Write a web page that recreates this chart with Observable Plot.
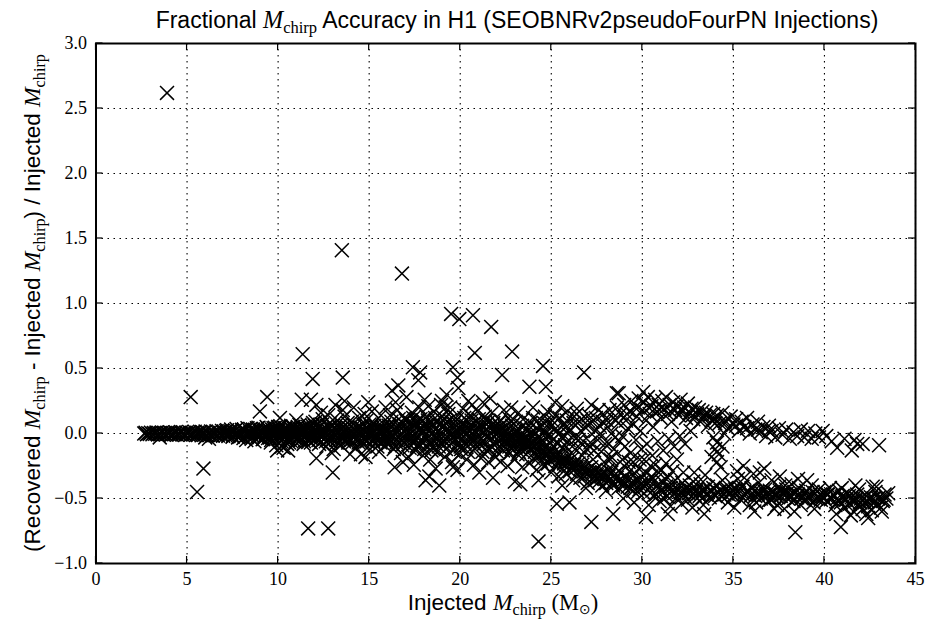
<!DOCTYPE html>
<html>
<head>
<meta charset="utf-8">
<script src="https://cdn.jsdelivr.net/npm/d3@7"></script>
<script src="https://cdn.jsdelivr.net/npm/@observablehq/plot@0.6"></script>
<style>
  html, body { margin: 0; padding: 0; background: #fff; }
  #chart { width: 928px; height: 621px; }
</style>
</head>
<body>
<div id="chart"></div>
<script>
// ---- axis ticks ----
const xTicks = [0, 5, 10, 15, 20, 25, 30, 35, 40, 45];
const xTickLabels = ["0", "5", "10", "15", "20", "25", "30", "35", "40", "45"];
const yTicks = [-1.0, -0.5, 0.0, 0.5, 1.0, 1.5, 2.0, 2.5, 3.0];
const yTickLabels = ["\u22121.0", "\u22120.5", "0.0", "0.5", "1.0", "1.5", "2.0", "2.5", "3.0"];

// ---- data: [injected Mchirp, fractional error] ----
const band2to7 = [[2.65,0],[2.72,0.005],[2.8,-0.005],[2.87,0.002],[2.95,-0.003],[3.02,0.006],[3.1,-0.006],[3.17,0.003],[3.25,-0.002],[3.32,0.007],[3.4,-0.007],[3.47,0.002],[3.5,-0.03],[3.55,-0.004],[3.62,0.008],[3.7,-0.006],[3.77,0.003],[3.85,-0.008],[3.92,0.005],[4.0,-0.003],[4.07,0.009],[4.15,-0.009],[4.22,0.004],[4.3,-0.005],[4.37,0.01],[4.45,-0.01],[4.52,0.003],[4.6,-0.006],[4.67,0.011],[4.75,-0.008],[4.82,0.004],[4.9,-0.011],[4.97,0.008],[5.05,-0.004],[5.12,0.012],[5.2,-0.01],[5.27,0.005],[5.35,-0.007],[5.42,0.013],[5.5,-0.012],[5.57,0.006],[5.65,-0.005],[5.72,0.014],[5.8,-0.013],[5.87,0.007],[5.95,-0.009],[6.0,-0.03],[6.02,0.015],[6.1,-0.014],[6.17,0.004],[6.2,-0.04],[6.25,-0.011],[6.32,0.016],[6.4,-0.015],[6.47,0.008],[6.55,-0.006],[6.62,0.018],[6.7,-0.016],[6.77,0.01],[6.85,-0.012],[6.92,0.02],[6.98,-0.018]];

const band7to12 = [[7.05,0.012],[7.12,-0.015],[7.2,0.025],[7.27,-0.02],[7.35,0.005],[7.42,0.03],[7.5,-0.025],[7.57,0.015],[7.65,-0.01],[7.72,0.035],[7.8,-0.03],[7.87,0.01],[7.95,-0.018],[8.02,0.028],[8.1,-0.035],[8.17,0.02],[8.25,-0.05],[8.32,0.04],[8.4,-0.012],[8.47,0.008],[8.5,0.0],[8.55,-0.04],[8.62,0.03],[8.7,-0.06],[8.77,0.015],[8.85,-0.025],[8.9,0.005],[8.92,0.045],[9.0,-0.02],[9.07,0.02],[9.15,-0.045],[9.22,0.035],[9.3,-0.01],[9.32,0.025],[9.37,0.05],[9.45,-0.035],[9.52,0.01],[9.55,0.0],[9.6,-0.07],[9.67,0.03],[9.75,-0.02],[9.82,0.045],[9.85,-0.005],[9.9,-0.09],[9.95,-0.13],[9.97,0.015],[10.05,-0.04],[10.1,0.12],[10.12,0.055],[10.15,0.005],[10.2,-0.1],[10.27,0.02],[10.3,-0.11],[10.35,-0.03],[10.42,0.04],[10.45,-0.01],[10.5,-0.08],[10.55,-0.13],[10.57,0.01],[10.65,-0.05],[10.72,0.06],[10.75,0.0],[10.8,-0.02],[10.87,0.035],[10.95,-0.065],[11.0,0.1],[11.02,0.02],[11.05,-0.005],[11.1,-0.035],[11.17,0.065],[11.25,-0.05],[11.32,0.01],[11.35,0.0],[11.4,-0.08],[11.47,0.045],[11.55,-0.02],[11.62,0.07],[11.65,-0.01],[11.7,-0.06],[11.77,0.025],[11.85,-0.04],[11.92,0.08],[11.95,0.005],[11.97,-0.01]];

const core9to16 = [[9.05,0.01],[9.15,0.03],[9.25,-0.02],[9.35,0.0],[9.45,0.02],[9.55,-0.03],[9.65,0.01],[9.75,0.04],[9.85,0.02],[9.95,-0.02],[10.05,0.03],[10.15,-0.03],[10.25,0.0],[10.35,0.04],[10.45,0.01],[10.55,-0.04],[10.65,0.02],[10.75,-0.01],[10.85,0.05],[10.95,0.0],[11.05,0.03],[11.15,-0.03],[11.25,0.01],[11.35,0.04],[11.45,-0.02],[11.55,0.02],[11.65,0.05],[11.75,-0.03],[11.85,0.01],[11.95,0.04],[12.15,0.0],[12.35,-0.02],[12.55,0.03],[12.75,-0.05],[12.95,0.02],[13.15,-0.01],[13.35,0.05],[13.55,-0.04],[13.75,0.02],[13.95,0.0],[14.15,-0.03],[14.35,0.04],[14.55,0.01],[14.75,-0.05],[14.95,0.03],[15.15,0.0],[15.35,-0.04],[15.55,0.02],[15.75,0.05],[15.95,-0.02]];

const core7to16 = [[7.03,0.0],[7.15,0.02],[7.28,-0.01],[7.4,0.015],[7.52,-0.02],[7.64,0.025],[7.76,0.0],[7.88,-0.025],[8.0,0.01],[8.12,0.03],[8.24,-0.015],[8.36,0.0],[8.48,0.035],[8.6,-0.02],[8.72,0.01],[8.84,0.04],[8.96,-0.03],[9.08,0.0],[9.2,-0.04],[9.42,0.04],[9.62,-0.05],[9.8,0.0],[10.0,0.05],[10.18,-0.06],[10.38,0.03],[10.6,-0.07],[10.8,0.05],[11.0,-0.04],[11.2,0.03],[11.42,-0.06],[11.6,0.0],[11.8,-0.07],[12.02,0.06],[12.22,-0.05],[12.42,0.07],[12.62,-0.06],[12.82,0.01],[13.02,0.06],[13.22,-0.07],[13.42,0.03],[13.62,-0.06],[13.82,0.08],[14.02,-0.05],[14.22,0.06],[14.42,-0.07],[14.62,0.04],[14.82,-0.02],[15.02,0.07],[15.22,-0.06],[15.42,0.05],[15.62,-0.07],[15.82,0.07]];

const core10to24 = [[10.08,-0.02],[10.28,0.03],[10.48,-0.05],[10.68,0.04],[10.88,-0.03],[11.08,0.05],[11.28,-0.04],[11.48,0.02],[11.68,-0.05],[11.88,0.06],[12.08,-0.04],[12.28,0.05],[12.48,-0.02],[12.68,0.06],[12.88,-0.06],[13.08,0.04],[13.28,-0.04],[13.48,0.07],[13.68,-0.02],[13.88,0.04],[14.08,-0.07],[14.28,0.02],[14.48,-0.04],[14.68,0.07],[14.88,-0.06],[15.08,0.02],[15.28,0.06],[15.48,-0.06],[15.68,0.03],[15.88,-0.04],[16.08,0.06],[16.28,-0.01],[16.48,-0.05],[16.68,0.05],[16.88,-0.07],[17.08,0.03],[17.28,0.08],[17.48,-0.04],[17.68,0.06],[17.88,-0.06],[18.08,0.04],[18.28,-0.07],[18.48,0.05],[18.68,-0.03],[18.88,0.07],[19.08,-0.05],[19.28,0.09],[19.48,-0.02],[19.68,0.04],[19.88,-0.09],[20.08,0.02],[20.28,0.07],[20.48,-0.06],[20.68,0.04],[20.88,-0.04],[21.08,0.07],[21.28,-0.06],[21.48,0.03],[21.68,0.0],[21.88,-0.09],[22.08,0.0],[22.48,-0.05],[22.88,-0.1],[23.28,-0.06],[23.68,-0.1],[24.08,-0.06]];

const band12to16 = [[12.0,0.02],[12.1,-0.03],[12.2,0.045],[12.3,-0.01],[12.4,0.03],[12.5,-0.045],[12.6,0.01],[12.7,-0.02],[12.8,0.05],[12.9,-0.035],[13.0,0.0],[13.1,0.035],[13.2,-0.05],[13.3,0.02],[13.4,-0.015],[13.5,0.04],[13.6,-0.03],[13.7,0.005],[13.8,0.05],[13.9,-0.04],[14.0,0.015],[14.1,-0.02],[14.2,0.03],[14.3,-0.05],[14.4,0.0],[14.5,0.045],[14.6,-0.025],[14.7,0.02],[14.8,-0.04],[14.9,0.035],[15.0,-0.01],[15.1,0.05],[15.2,-0.045],[15.3,0.01],[15.4,-0.02],[15.5,0.04],[15.6,-0.035],[15.7,0.0],[15.8,0.03],[15.9,-0.05],[16.0,0.02],[12.05,0.09],[12.25,-0.08],[12.45,0.11],[12.65,-0.1],[12.85,0.08],[13.05,-0.12],[13.25,0.1],[13.45,-0.09],[13.65,0.13],[13.85,-0.07],[14.05,0.09],[14.25,-0.11],[14.45,0.12],[14.65,-0.08],[14.85,0.1],[15.05,-0.12],[15.25,0.08],[15.45,-0.1],[15.65,0.14],[15.85,-0.09],[12.35,0.16],[12.95,-0.15],[13.55,0.18],[14.15,0.2],[14.55,-0.16],[15.15,0.17],[15.55,-0.14],[13.15,0.22],[14.75,0.15],[15.9,0.2],[12.75,0.14],[13.95,-0.16]];

const band16to22 = [[16.1,-0.04],[16.2,0.06],[16.3,-0.02],[16.4,0.03],[16.5,-0.07],[16.6,0.01],[16.7,0.07],[16.8,-0.05],[16.9,0.02],[17.0,-0.03],[17.1,0.05],[17.2,-0.08],[17.3,0.0],[17.4,0.04],[17.5,-0.06],[17.6,0.08],[17.7,-0.02],[17.8,0.03],[17.9,-0.07],[18.0,0.01],[18.1,0.06],[18.2,-0.04],[18.3,0.02],[18.4,-0.08],[18.5,0.07],[18.6,-0.01],[18.7,0.04],[18.8,-0.06],[18.9,0.0],[19.0,0.05],[19.1,-0.05],[19.2,0.08],[19.3,-0.03],[19.4,0.02],[19.5,-0.08],[19.6,0.05],[19.7,-0.01],[19.8,0.03],[19.9,-0.07],[20.0,0.06],[20.1,-0.04],[20.2,0.01],[20.3,-0.09],[20.4,0.04],[20.5,-0.02],[20.6,0.07],[20.7,-0.06],[20.8,0.02],[20.9,-0.1],[21.0,0.03],[21.1,-0.05],[21.2,0.06],[21.3,-0.08],[21.4,0.0],[21.5,-0.03],[21.6,0.05],[21.7,-0.1],[21.8,0.02],[21.9,-0.06],[22.0,0.04],[16.15,0.14],[16.35,-0.12],[16.55,0.18],[16.75,-0.15],[16.95,0.12],[17.15,-0.18],[17.35,0.16],[17.55,-0.13],[17.75,0.2],[17.95,-0.17],[18.15,0.13],[18.35,-0.2],[18.55,0.17],[18.75,-0.14],[18.95,0.22],[19.15,-0.18],[19.35,0.15],[19.55,-0.22],[19.75,0.12],[19.95,-0.16],[20.15,0.19],[20.35,-0.2],[20.55,0.14],[20.75,-0.24],[20.95,0.17],[21.15,-0.19],[21.35,0.13],[21.55,-0.22],[21.75,0.16],[21.95,-0.18],[16.45,0.24],[17.05,0.28],[17.45,-0.24],[18.05,0.26],[18.65,-0.27],[19.25,0.3],[19.85,-0.28],[20.45,0.25],[21.05,-0.3],[21.65,0.27],[16.85,-0.22],[18.25,0.21],[19.45,0.2],[20.65,0.22],[21.25,0.24],[17.65,0.1],[18.45,-0.11],[19.05,0.1],[20.05,-0.12],[21.45,-0.13]];

const core16to22 = [[16.05,0.02],[16.25,-0.06],[16.45,0.05],[16.65,-0.03],[16.85,0.08],[17.05,0.0],[17.25,-0.05],[17.45,0.07],[17.65,-0.09],[17.85,0.04],[18.05,-0.02],[18.25,0.06],[18.45,0.0],[18.65,0.09],[18.85,-0.03],[19.05,-0.08],[19.25,0.03],[19.45,-0.05],[19.65,0.08],[19.85,0.0],[20.05,0.05],[20.25,-0.07],[20.45,0.02],[20.65,-0.03],[20.85,0.09],[21.05,-0.08],[21.25,0.01],[21.45,0.07],[21.65,-0.05],[21.85,0.04],[16.15,0.0],[16.75,0.04],[17.35,-0.02],[17.95,0.1],[18.55,-0.05],[19.15,0.06],[19.75,-0.04],[20.35,0.1],[20.95,-0.01],[21.55,0.09]];

const core16to28 = [[16.02,-0.08],[16.22,0.09],[16.42,-0.1],[16.62,0.11],[16.82,-0.09],[17.02,0.1],[17.22,-0.11],[17.42,0.12],[17.62,-0.1],[17.82,0.11],[18.02,-0.12],[18.22,0.1],[18.42,-0.13],[18.62,0.12],[18.82,-0.1],[19.02,0.13],[19.22,-0.12],[19.42,0.1],[19.62,-0.13],[19.82,0.11],[20.02,-0.1],[20.22,0.12],[20.42,-0.14],[20.62,0.1],[20.82,-0.12],[21.02,0.11],[21.22,-0.14],[21.42,0.1],[21.62,-0.12],[21.82,0.08],[22.02,-0.14],[22.22,0.03],[22.42,-0.1],[22.62,0.0],[22.82,-0.12],[23.02,0.02],[23.22,-0.14],[23.42,-0.02],[23.62,-0.16],[23.82,0.0],[24.02,-0.19],[24.22,0.04],[24.42,-0.21],[24.62,0.02],[24.82,-0.23],[25.02,0.06],[25.22,-0.25],[25.42,0.0],[25.62,-0.27],[25.82,0.05],[26.02,-0.29],[26.22,0.08],[26.42,-0.31],[26.62,0.02],[26.82,-0.33],[27.02,0.06],[27.22,-0.35],[27.42,0.02],[27.62,-0.37],[27.82,0.09],[28.02,-0.38],[24.25,-0.12],[24.75,-0.15],[25.25,-0.18],[25.75,-0.21],[26.25,-0.24],[26.75,-0.27],[27.25,-0.3],[27.75,-0.32],[28.25,-0.35],[28.65,-0.37],[29.05,-0.39],[29.45,-0.41],[29.85,-0.43]];

const band22to28 = [[22.0,-0.01],[22.1,0.02],[22.2,-0.04],[22.3,0.0],[22.4,-0.03],[22.5,-0.06],[22.6,-0.01],[22.7,-0.05],[22.8,-0.02],[22.9,-0.08],[23.0,-0.04],[23.1,-0.07],[23.2,-0.03],[23.3,-0.09],[23.4,-0.06],[23.5,-0.1],[23.6,-0.07],[23.7,-0.11],[23.8,-0.08],[23.9,-0.12],[24.0,-0.1],[24.1,-0.14],[24.2,-0.09],[24.3,-0.13],[24.4,-0.16],[24.5,-0.12],[24.6,-0.15],[24.7,-0.11],[24.8,-0.17],[24.9,-0.14],[25.0,-0.18],[25.1,-0.15],[25.2,-0.19],[25.3,-0.16],[25.4,-0.21],[25.5,-0.17],[25.6,-0.2],[25.7,-0.23],[25.8,-0.19],[25.9,-0.22],[26.0,-0.24],[26.1,-0.2],[26.2,-0.25],[26.3,-0.22],[26.4,-0.26],[26.5,-0.23],[26.6,-0.27],[26.7,-0.24],[26.8,-0.29],[26.9,-0.25],[27.0,-0.28],[27.1,-0.3],[27.2,-0.26],[27.3,-0.31],[27.4,-0.28],[27.5,-0.32],[27.6,-0.29],[27.7,-0.33],[27.8,-0.3],[27.9,-0.34],[28.0,-0.31],[22.05,0.08],[22.25,0.1],[22.45,0.05],[22.65,0.12],[22.85,0.06],[23.05,0.09],[23.25,0.03],[23.45,0.11],[23.65,0.04],[23.85,0.08],[24.05,0.02],[24.25,0.1],[24.45,0.05],[24.65,0.13],[24.85,0.07],[25.05,0.1],[25.25,0.04],[25.45,0.12],[25.65,0.06],[25.85,0.1],[26.05,0.03],[26.25,0.13],[26.45,0.08],[26.65,0.11],[26.85,0.05],[27.05,0.14],[27.25,0.09],[27.45,0.12],[27.65,0.06],[27.85,0.15],[28.05,0.1],[22.15,-0.1],[22.35,-0.13],[22.55,-0.02],[22.75,-0.15],[22.95,0.0],[23.15,-0.16],[23.35,-0.01],[23.55,-0.03],[23.75,-0.04],[23.95,-0.02],[24.15,-0.05],[24.35,-0.03],[24.55,-0.06],[24.75,-0.02],[24.95,-0.07],[25.15,-0.04],[25.35,-0.08],[25.55,-0.03],[25.75,-0.09],[25.95,-0.05],[26.15,-0.1],[26.35,-0.04],[26.55,-0.11],[26.75,-0.06],[26.95,-0.12],[27.15,-0.07],[27.35,-0.13],[27.55,-0.05],[27.75,-0.14],[27.95,-0.08],[22.2,-0.22],[22.6,-0.25],[23.0,-0.2],[23.4,-0.26],[23.8,-0.23],[24.2,-0.28],[24.6,-0.25],[25.0,-0.3],[25.4,-0.33],[25.8,-0.31],[26.2,-0.36],[26.6,-0.34],[27.0,-0.38],[27.4,-0.36],[27.8,-0.4],[24.3,-0.36],[25.6,-0.4],[26.9,-0.42],[28.0,-0.44],[22.4,0.18],[23.2,0.16],[24.0,0.2],[24.8,0.17],[25.6,0.21],[26.4,0.19],[27.2,0.22],[25.2,0.24]];

const core22to28 = [[22.1,-0.06],[22.3,-0.08],[22.5,0.02],[22.7,-0.1],[22.9,-0.04],[23.1,0.0],[23.3,-0.12],[23.5,-0.05],[23.7,0.02],[23.9,-0.07],[24.1,-0.01],[24.3,-0.18],[24.5,-0.08],[24.7,0.0],[24.9,-0.2],[25.1,-0.1],[25.3,0.02],[25.5,-0.22],[25.7,-0.12],[25.9,0.0],[26.1,-0.15],[26.3,-0.27],[26.5,-0.05],[26.7,-0.17],[26.9,-0.3],[27.1,-0.1],[27.3,-0.2],[27.5,-0.35],[27.7,0.0],[27.9,-0.22],[22.2,0.05],[22.8,0.09],[23.4,0.06],[24.0,0.12],[24.6,0.08],[25.2,0.14],[25.8,0.16],[26.4,0.15],[27.0,0.1],[27.6,0.18]];

const upper28to34 = [[28.1,0.05],[28.2,0.18],[28.3,0.0],[28.4,0.12],[28.5,-0.03],[28.6,0.2],[28.7,0.08],[28.8,0.15],[28.9,-0.02],[29.0,0.22],[29.1,0.1],[29.2,0.04],[29.3,0.17],[29.4,0.25],[29.5,0.07],[29.6,0.2],[29.7,0.13],[29.8,0.27],[29.9,0.02],[30.0,0.18],[30.1,0.24],[30.2,0.1],[30.3,0.28],[30.4,0.15],[30.5,0.21],[30.6,0.05],[30.7,0.26],[30.8,0.17],[30.9,0.22],[31.0,0.12],[31.1,0.25],[31.2,0.19],[31.3,0.28],[31.4,0.15],[31.5,0.22],[31.6,0.09],[31.7,0.24],[31.8,0.18],[31.9,0.21],[32.0,0.14],[32.1,0.26],[32.2,0.17],[32.3,0.2],[32.4,0.12],[32.5,0.23],[32.6,0.16],[32.7,0.19],[32.8,0.11],[32.9,0.2],[33.0,0.15],[33.1,0.18],[33.2,0.09],[33.3,0.17],[33.4,0.13],[33.5,0.16],[33.6,0.06],[33.7,0.14],[33.8,0.1],[33.9,0.15],[34.0,0.08],[28.15,-0.08],[28.45,-0.12],[28.75,-0.06],[29.05,-0.1],[29.35,-0.15],[29.65,-0.05],[29.95,-0.12],[30.25,-0.08],[30.55,-0.17],[30.85,-0.06],[31.15,-0.13],[31.45,-0.04],[31.75,-0.1],[32.05,-0.02],[32.35,-0.08],[32.65,0.02],[28.3,-0.18],[28.9,-0.2],[29.5,-0.22],[30.1,-0.2],[30.7,-0.24],[31.3,-0.23],[31.9,-0.2],[33.9,-0.03],[34.1,-0.07],[34.0,-0.12],[34.2,-0.16],[34.1,-0.22],[34.3,-0.26],[34.4,-0.1],[33.8,-0.18],[34.5,0.0],[28.55,0.1],[29.15,0.15],[29.75,0.2],[30.35,0.2],[30.95,0.18],[31.55,0.17],[32.15,0.19],[32.75,0.14],[33.35,0.12],[33.95,0.11]];

const lower28to34 = [[28.1,-0.28],[28.2,-0.36],[28.3,-0.3],[28.4,-0.4],[28.5,-0.26],[28.6,-0.34],[28.7,-0.42],[28.8,-0.3],[28.9,-0.37],[29.0,-0.25],[29.1,-0.33],[29.2,-0.41],[29.3,-0.29],[29.4,-0.38],[29.5,-0.44],[29.6,-0.31],[29.7,-0.36],[29.8,-0.27],[29.9,-0.4],[30.0,-0.34],[30.1,-0.46],[30.2,-0.3],[30.3,-0.38],[30.4,-0.42],[30.5,-0.33],[30.6,-0.48],[30.7,-0.36],[30.8,-0.4],[30.9,-0.3],[31.0,-0.44],[31.1,-0.37],[31.2,-0.5],[31.3,-0.41],[31.4,-0.34],[31.5,-0.46],[31.6,-0.39],[31.7,-0.43],[31.8,-0.36],[31.9,-0.49],[32.0,-0.41],[32.1,-0.45],[32.2,-0.38],[32.3,-0.47],[32.4,-0.42],[32.5,-0.51],[32.6,-0.4],[32.7,-0.44],[32.8,-0.37],[32.9,-0.48],[33.0,-0.43],[33.1,-0.46],[33.2,-0.39],[33.3,-0.5],[33.4,-0.44],[33.5,-0.47],[33.6,-0.41],[33.7,-0.49],[33.8,-0.45],[33.9,-0.42],[34.0,-0.48],[28.25,-0.2],[28.95,-0.5],[29.55,-0.53],[30.35,-0.55],[30.95,-0.52],[31.55,-0.56],[32.15,-0.54],[32.75,-0.57],[33.35,-0.55],[29.25,-0.22],[29.85,-0.2],[30.45,-0.25],[31.05,-0.28],[31.65,-0.29],[32.25,-0.3],[32.85,-0.3],[33.45,-0.32]];

const upper34to40 = [[34.1,0.14],[34.25,0.08],[34.4,0.16],[34.55,0.1],[34.7,0.04],[34.85,0.13],[35.0,0.07],[35.15,0.11],[35.3,0.02],[35.45,0.09],[35.6,0.05],[35.75,0.12],[35.9,0.0],[36.05,0.07],[36.2,0.03],[36.35,0.09],[36.5,0.01],[36.65,0.05],[36.8,-0.02],[36.95,0.06],[37.1,0.02],[37.3,-0.03],[37.5,0.04],[37.7,-0.01],[37.9,0.03],[38.1,-0.04],[38.3,0.01],[38.5,-0.02],[38.7,0.03],[38.9,-0.03],[39.1,0.02],[39.3,-0.04],[39.5,0.0],[39.7,-0.03],[39.9,0.02],[34.55,0.08],[35.15,0.06],[35.75,0.04],[36.35,0.03],[36.95,0.02]];

const lower34to40 = [[34.1,-0.4],[34.2,-0.5],[34.3,-0.44],[34.4,-0.36],[34.5,-0.47],[34.6,-0.42],[34.7,-0.53],[34.8,-0.45],[34.9,-0.39],[35.0,-0.48],[35.1,-0.43],[35.2,-0.29],[35.3,-0.46],[35.4,-0.51],[35.5,-0.41],[35.6,-0.34],[35.7,-0.47],[35.8,-0.44],[35.9,-0.55],[36.0,-0.42],[36.1,-0.31],[36.2,-0.48],[36.3,-0.45],[36.4,-0.38],[36.5,-0.5],[36.6,-0.43],[36.7,-0.27],[36.8,-0.47],[36.9,-0.52],[37.0,-0.44],[37.1,-0.36],[37.2,-0.49],[37.3,-0.46],[37.4,-0.55],[37.5,-0.41],[37.6,-0.48],[37.7,-0.45],[37.8,-0.58],[37.9,-0.43],[38.0,-0.5],[38.1,-0.47],[38.2,-0.39],[38.3,-0.52],[38.4,-0.46],[38.5,-0.49],[38.6,-0.42],[38.7,-0.55],[38.8,-0.48],[38.9,-0.51],[39.0,-0.44],[39.1,-0.5],[39.2,-0.47],[39.3,-0.4],[39.4,-0.53],[39.5,-0.46],[39.6,-0.49],[39.7,-0.43],[39.8,-0.51],[39.9,-0.48],[40.0,-0.45],[35.05,-0.57],[36.15,-0.6],[37.25,-0.58],[38.35,-0.6],[39.45,-0.58],[35.55,-0.25],[36.45,-0.3],[37.55,-0.33],[38.55,-0.35],[39.05,-0.36],[35.25,-0.35],[36.25,-0.53],[37.05,-0.51],[37.85,-0.4]];

const coreLower28to43 = [[28.15,-0.33],[28.35,-0.38],[28.55,-0.31],[28.75,-0.36],[28.95,-0.4],[29.15,-0.35],[29.35,-0.42],[29.55,-0.37],[29.75,-0.45],[29.95,-0.38],[30.15,-0.41],[30.35,-0.36],[30.55,-0.44],[30.75,-0.47],[30.95,-0.41],[31.15,-0.45],[31.35,-0.48],[31.55,-0.42],[31.75,-0.46],[31.95,-0.44],[32.15,-0.49],[32.35,-0.44],[32.55,-0.46],[32.75,-0.42],[32.95,-0.45],[33.15,-0.48],[33.35,-0.43],[33.55,-0.46],[33.75,-0.44],[33.95,-0.47],[34.15,-0.45],[34.35,-0.48],[34.55,-0.43],[34.75,-0.47],[34.95,-0.44],[35.15,-0.46],[35.35,-0.42],[35.55,-0.47],[35.75,-0.45],[35.95,-0.48],[36.15,-0.44],[36.35,-0.47],[36.55,-0.46],[36.75,-0.43],[36.95,-0.47],[37.15,-0.45],[37.35,-0.48],[37.55,-0.44],[37.75,-0.47],[37.95,-0.46],[38.15,-0.49],[38.35,-0.45],[38.55,-0.47],[38.75,-0.5],[38.95,-0.46],[39.15,-0.48],[39.35,-0.45],[39.55,-0.5],[39.75,-0.47],[39.95,-0.49],[40.15,-0.47],[40.35,-0.5],[40.55,-0.48],[40.75,-0.52],[40.95,-0.49],[41.15,-0.51],[41.35,-0.48],[41.55,-0.52],[41.75,-0.5],[41.95,-0.53],[42.15,-0.5],[42.35,-0.52],[42.55,-0.49],[42.75,-0.53],[42.95,-0.5],[43.25,-0.51]];

const tail40to44 = [[40.1,-0.52],[40.2,-0.47],[40.3,-0.42],[40.4,-0.5],[40.5,-0.47],[40.6,-0.55],[40.7,-0.5],[40.8,-0.44],[40.9,-0.53],[41.0,-0.48],[41.1,-0.57],[41.2,-0.51],[41.3,-0.46],[41.4,-0.54],[41.5,-0.49],[41.6,-0.6],[41.7,-0.52],[41.8,-0.47],[41.9,-0.55],[42.0,-0.5],[42.1,-0.58],[42.2,-0.53],[42.3,-0.48],[42.4,-0.56],[42.5,-0.51],[42.6,-0.59],[42.7,-0.5],[42.8,-0.45],[42.9,-0.54],[43.0,-0.49],[43.1,-0.57],[43.2,-0.52],[43.3,-0.47],[43.4,-0.5],[43.5,-0.46],[40.95,-0.42],[41.9,-0.43],[42.85,-0.41],[40.65,-0.62],[41.45,-0.63],[42.3,-0.62],[43.15,-0.6],[41.7,-0.4],[42.65,-0.41],[40.1,-0.02],[40.4,-0.06],[40.7,-0.11],[41.1,-0.04],[41.5,-0.13],[41.65,-0.05],[41.8,-0.08],[42.1,-0.08],[43.0,-0.09]];

const outliers = [[3.9,2.62],[13.5,1.41],[16.8,1.23],[19.5,0.92],[19.95,0.88],[20.7,0.91],[21.7,0.82],[11.35,0.61],[20.8,0.62],[22.85,0.63],[5.2,0.28],[5.9,-0.27],[5.55,-0.45],[9.4,0.28],[9.0,0.17],[11.9,0.42],[13.55,0.43],[11.3,0.26],[11.8,0.26],[12.1,0.22],[13.65,0.25],[14.95,0.24],[12.1,-0.19],[13.0,-0.3],[14.8,-0.18],[11.65,-0.73],[12.75,-0.73],[17.4,0.51],[17.8,0.47],[17.7,0.41],[19.6,0.51],[19.85,0.43],[19.9,0.35],[22.3,0.45],[16.25,0.33],[16.6,0.37],[19.0,0.25],[19.2,0.2],[16.4,-0.26],[18.1,-0.36],[18.85,-0.4],[18.3,-0.33],[21.8,-0.34],[19.6,-0.26],[24.55,0.52],[23.8,0.36],[24.7,0.36],[26.8,0.47],[28.6,0.31],[28.7,0.31],[30.05,0.32],[22.8,0.2],[23.3,-0.39],[23.0,-0.37],[25.3,-0.54],[26.0,-0.53],[27.2,-0.68],[24.3,-0.83],[28.4,-0.62],[30.2,-0.64],[31.4,-0.62],[33.4,-0.62],[38.4,-0.76],[40.9,-0.72],[42.4,-0.65]];

const points = [...band2to7, ...band7to12, ...core9to16, ...core7to16, ...core10to24, ...band12to16,
  ...band16to22, ...core16to22, ...core16to28, ...band22to28, ...core22to28, ...upper28to34,
  ...lower28to34, ...upper34to40, ...lower34to40, ...coreLower28to43, ...tail40to44, ...outliers]
  .map(([m, f]) => ({m, f}));

const W = 928, H = 621;
const mL = 95.5, mR = 13, mT = 43, mB = 58;
const tickLen = 7;

// inward ticks on all four sides, positioned through the plot's scales
function frameTicks(index, scales, values, dims) {
  const {x, y} = scales;
  const left = dims.marginLeft, right = dims.width - dims.marginRight;
  const top = dims.marginTop, bottom = dims.height - dims.marginBottom;
  const g = d3.create("svg:g").attr("stroke", "black").attr("stroke-width", 1.2);
  for (const t of xTicks) {
    const px = x(t);
    g.append("line").attr("x1", px).attr("x2", px).attr("y1", bottom).attr("y2", bottom - tickLen);
    g.append("line").attr("x1", px).attr("x2", px).attr("y1", top).attr("y2", top + tickLen);
  }
  for (const t of yTicks) {
    const py = y(t);
    g.append("line").attr("y1", py).attr("y2", py).attr("x1", left).attr("x2", left + tickLen);
    g.append("line").attr("y1", py).attr("y2", py).attr("x1", right).attr("x2", right - tickLen);
  }
  return g.node();
}

const chart = Plot.plot({
  width: W,
  height: H,
  marginLeft: mL,
  marginRight: mR,
  marginTop: mT,
  marginBottom: mB,
  style: {fontFamily: "'Liberation Serif', serif", fontSize: "18px", background: "white", color: "black", overflow: "visible"},
  x: {domain: [0, 45], ticks: xTicks, tickFormat: (d, i) => xTickLabels[i], tickSize: 0, tickPadding: 9, label: null},
  y: {domain: [-1, 3], ticks: yTicks, tickFormat: (d, i) => yTickLabels[i], tickSize: 0, tickPadding: 9, label: null},
  marks: [
    Plot.ruleX(xTicks, {x: d => d, stroke: "black", strokeWidth: 1.1, strokeDasharray: "1.5,4.5"}),
    Plot.ruleY(yTicks, {y: d => d, stroke: "black", strokeWidth: 1.1, strokeDasharray: "1.5,4.5"}),
    Plot.dot(points, {x: "m", y: "f", symbol: "times", r: 6.4, stroke: "black", strokeWidth: 1.5, fill: "none"}),
    frameTicks,
    Plot.frame({stroke: "black", strokeWidth: 2})
  ]
});
document.getElementById("chart").appendChild(chart);

// ---- title and axis labels (with math-style subscripts) ----
const svg = d3.select(chart);
const sans = "'Liberation Sans', Arial, sans-serif";
const serif = "'Liberation Serif', 'Times New Roman', serif";
const fs = 22.5;

function mchirp(text, size) {
  text.append("tspan").attr("font-family", serif).attr("font-style", "italic").attr("font-size", size * 1.05).text("M");
  text.append("tspan").attr("font-family", serif).attr("font-size", size * 0.72).attr("dy", size * 0.2).text("chirp");
  return text;
}

const title = svg.append("text")
  .attr("x", 517).attr("y", 28).attr("text-anchor", "middle")
  .attr("font-family", sans).attr("font-size", 23).attr("fill", "black");
title.append("tspan").text("Fractional ");
mchirp(title, 23);
title.append("tspan").attr("dy", -23 * 0.2).text(" Accuracy in H1 (SEOBNRv2pseudoFourPN Injections)");

const xl = svg.append("text")
  .attr("x", 503).attr("y", 610).attr("text-anchor", "middle")
  .attr("font-family", sans).attr("font-size", fs).attr("fill", "black");
xl.append("tspan").text("Injected ");
mchirp(xl, fs);
xl.append("tspan").attr("dy", -fs * 0.2).attr("font-family", serif).text(" (M");
xl.append("tspan").attr("font-family", "'DejaVu Sans', sans-serif").attr("font-size", 14).attr("dy", 4).text("\u2299");
xl.append("tspan").attr("font-family", serif).attr("dy", -4).text(")");

const yl = svg.append("text")
  .attr("transform", "translate(40,303) rotate(-90)").attr("text-anchor", "middle")
  .attr("font-family", sans).attr("font-size", fs).attr("fill", "black");
yl.append("tspan").text("(Recovered ");
mchirp(yl, fs);
yl.append("tspan").attr("dy", -fs * 0.2).text(" - Injected ");
mchirp(yl, fs);
yl.append("tspan").attr("dy", -fs * 0.2).text(") / Injected ");
mchirp(yl, fs);
</script>
</body>
</html>
